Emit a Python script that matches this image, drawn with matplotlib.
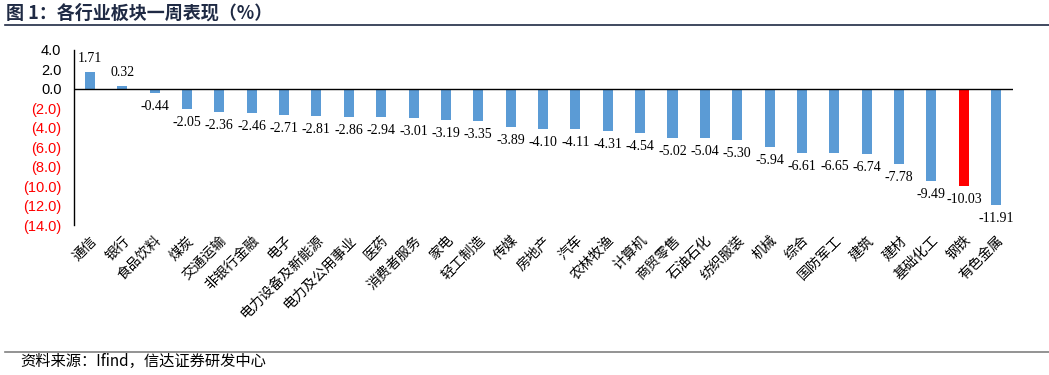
import matplotlib.pyplot as plt
from matplotlib.lines import Line2D

# 各行业板块一周表现（%）
categories = ['通信', '银行', '食品饮料', '煤炭', '交通运输', '非银行金融', '电子',
              '电力设备及新能源', '电力及公用事业', '医药', '消费者服务', '家电',
              '轻工制造', '传媒', '房地产', '汽车', '农林牧渔', '计算机', '商贸零售',
              '石油石化', '纺织服装', '机械', '综合', '国防军工', '建筑', '建材',
              '基础化工', '钢铁', '有色金属']
values = [1.71, 0.32, -0.44, -2.05, -2.36, -2.46, -2.71, -2.81, -2.86, -2.94,
          -3.01, -3.19, -3.35, -3.89, -4.10, -4.11, -4.31, -4.54, -5.02, -5.04,
          -5.30, -5.94, -6.61, -6.65, -6.74, -7.78, -9.49, -10.03, -11.91]
highlight = '钢铁'
yticks = [4, 2, 0, -2, -4, -6, -8, -10, -12, -14]

cjk = ['Noto Sans CJK SC', 'DejaVu Sans']
plt.rcParams['font.family'] = cjk

fig = plt.figure(figsize=(10.49, 3.75), dpi=100)
ax = fig.add_axes([0.0705, 0.4, 0.8952, 0.467])

x = range(len(categories))
colors = ['#FF0000' if c == highlight else '#5B9BD5' for c in categories]
bars = ax.bar(x, values, 0.31, color=colors, zorder=2)

# 数据标签
for bar, v in zip(bars, values):
    cx = bar.get_x() + bar.get_width() / 2
    if v >= 0:
        ax.annotate(f'{v:.2f}', xy=(cx, v), xytext=(0, 5), textcoords='offset points',
                    ha='center', va='bottom', fontsize=10, family='Liberation Serif')
    else:
        ax.annotate(f'{v:.2f}', xy=(cx, v), xytext=(0, -5), textcoords='offset points',
                    ha='center', va='top', fontsize=10, family='Liberation Serif')

ax.axhline(0, color='black', lw=1, zorder=3)
ax.set_xlim(-0.49, 28.52)
ax.set_ylim(-14, 4)
ax.set_yticks(yticks)
ylabels = []
for t in yticks:
    ylabels.append(f'{t:.1f}' if t >= 0 else f'({-t:.1f})')
ax.set_yticklabels(ylabels, fontsize=10.5, family='Liberation Sans')
for lab, t in zip(ax.get_yticklabels(), yticks):
    if t < 0:
        lab.set_color('#FF0000')
ax.tick_params(axis='y', length=0, pad=9)

ax.set_xticks(list(x))
ax.set_xticklabels(categories, rotation=45, ha='right', rotation_mode='anchor', fontsize=10)
ax.tick_params(axis='x', length=0, pad=6)

for s in ['top', 'right', 'bottom']:
    ax.spines[s].set_visible(False)
ax.spines['left'].set_color('black')
ax.spines['left'].set_linewidth(1)

# 标题和来源
fig.text(0.006, 0.965, '图 1：各行业板块一周表现（%）', fontsize=13, fontweight='bold',
         color='#1F2A44', va='center', ha='left')
fig.add_artist(Line2D([0.005, 1.0], [0.933, 0.933], color='#1F2A44', lw=1.2))
fig.add_artist(Line2D([0.005, 1.0], [0.062, 0.062], color='#808080', lw=1.2))
fig.text(0.019, 0.035, '资料来源：Ifind，信达证券研发中心', fontsize=11, style='italic',
         va='center', ha='left')

fig.savefig('out.png', dpi=100)
